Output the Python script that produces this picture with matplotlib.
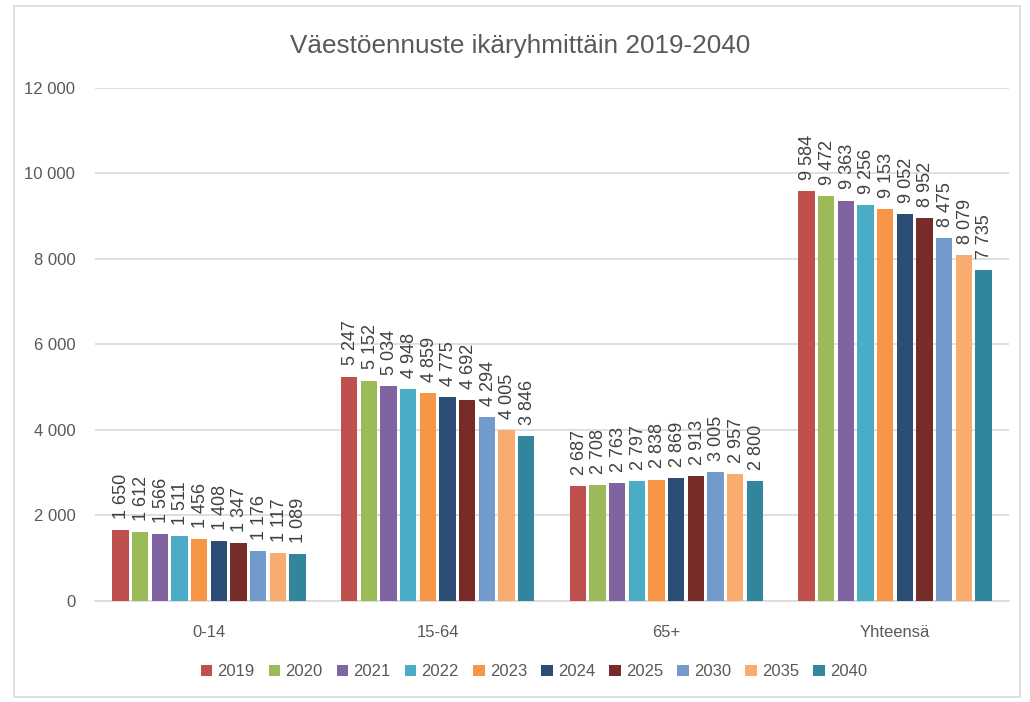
import matplotlib.pyplot as plt
import numpy as np
from matplotlib.patches import Rectangle

plt.rcParams['font.family'] = ['Liberation Sans', 'DejaVu Sans']

# Data
groups = ["0-14", "15-64", "65+", "Yhteensä"]
years = ["2019", "2020", "2021", "2022", "2023", "2024", "2025", "2030", "2035", "2040"]
values = {
    "2019": [1650, 5247, 2687, 9584],
    "2020": [1612, 5152, 2708, 9472],
    "2021": [1566, 5034, 2763, 9363],
    "2022": [1511, 4948, 2797, 9256],
    "2023": [1456, 4859, 2838, 9153],
    "2024": [1408, 4775, 2869, 9052],
    "2025": [1347, 4692, 2913, 8952],
    "2030": [1176, 4294, 3005, 8475],
    "2035": [1117, 4005, 2957, 8079],
    "2040": [1089, 3846, 2800, 7735],
}
colors = ["#C0504D", "#9BBB59", "#8064A2", "#4BACC6", "#F79646",
          "#2C4D75", "#772C2A", "#729ACA", "#F9AC6E", "#31859C"]

txt = "#595959"

def fmt(v):
    return f"{v:,.0f}".replace(",", " ")

fig = plt.figure(figsize=(10.3, 7.02), dpi=100)
fig.patches.append(Rectangle((0.014, 0.007), 0.976, 0.985, transform=fig.transFigure,
                             fill=False, edgecolor="#D9D9D9", linewidth=1.2))
ax = fig.add_axes([0.092, 0.144, 0.888, 0.731])

x = np.arange(len(groups))
slot = 0.086
width = 0.072
for i, (yr, c) in enumerate(zip(years, colors)):
    xs = x + (i - (len(years) - 1) / 2) * slot
    ax.bar(xs, values[yr], width=width, color=c, label=yr, zorder=3)
    for xi, v in zip(xs, values[yr]):
        ax.annotate(fmt(v), (xi, v), xytext=(1, 8), textcoords="offset points",
                    rotation=90, ha="center", va="bottom", fontsize=13, color="#404040")

ax.set_ylim(0, 12000)
ax.set_xlim(-0.5, len(groups) - 0.5)
ax.set_yticks(np.arange(0, 12001, 2000))
ax.set_yticklabels([fmt(t) for t in np.arange(0, 12001, 2000)], fontsize=12, color=txt)
ax.set_xticks(x)
ax.set_xticklabels(groups, fontsize=12, color=txt)
ax.tick_params(axis="y", length=0, pad=14)
ax.tick_params(axis="x", length=0, pad=17)
ax.grid(axis="y", color="#D9D9D9", linewidth=1.2, zorder=0)
for s in ["top", "right", "left"]:
    ax.spines[s].set_visible(False)
ax.spines["bottom"].set_color("#D9D9D9")
ax.spines["bottom"].set_linewidth(1.2)

fig.text(0.505, 0.935, "Väestöennuste ikäryhmittäin 2019-2040", ha="center", va="center",
         fontsize=18.8, color=txt)

ax.legend(loc="center", bbox_to_anchor=(0.48, -0.138), ncol=10, frameon=False,
          fontsize=12, labelcolor=txt, handlelength=0.7, handleheight=0.7,
          handletextpad=0.3, columnspacing=0.85)

fig.savefig("out.png", dpi=100)
